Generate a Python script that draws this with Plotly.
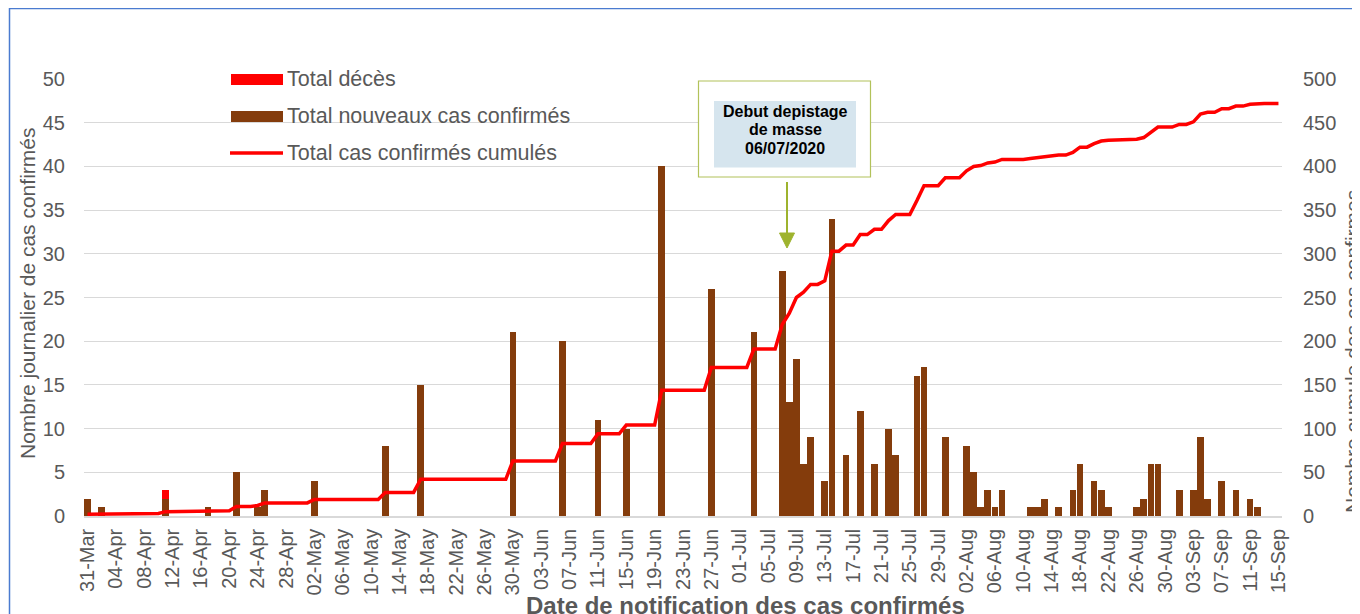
import pandas as pd
import plotly.graph_objects as go

# ---------------- data ----------------
start_date = "2020-03-31"
end_date = "2020-09-15"

case_dates = [
    "2020-03-31", "2020-04-02", "2020-04-11", "2020-04-17", "2020-04-21", "2020-04-24",
    "2020-04-25", "2020-05-02", "2020-05-12", "2020-05-17", "2020-05-30", "2020-06-06",
    "2020-06-11", "2020-06-15", "2020-06-20", "2020-06-27", "2020-07-03", "2020-07-07",
    "2020-07-08", "2020-07-09", "2020-07-10", "2020-07-11", "2020-07-13", "2020-07-14",
    "2020-07-16", "2020-07-18", "2020-07-20", "2020-07-22", "2020-07-23", "2020-07-26",
    "2020-07-27", "2020-07-30", "2020-08-02", "2020-08-03", "2020-08-04", "2020-08-05",
    "2020-08-06", "2020-08-07", "2020-08-11", "2020-08-12", "2020-08-13", "2020-08-15",
    "2020-08-17", "2020-08-18", "2020-08-20", "2020-08-21", "2020-08-22", "2020-08-26",
    "2020-08-27", "2020-08-28", "2020-08-29", "2020-09-01", "2020-09-03", "2020-09-04",
    "2020-09-05", "2020-09-07", "2020-09-09", "2020-09-11", "2020-09-12",
]
case_values = [
    2, 1, 2, 1, 5, 1,
    3, 4, 8, 15, 21, 20,
    11, 10, 40, 26, 21, 28,
    13, 18, 6, 9, 4, 34,
    7, 12, 6, 10, 7, 16,
    17, 9, 8, 5, 1, 3,
    1, 3, 1, 1, 2, 1,
    3, 6, 4, 3, 1, 1,
    2, 6, 6, 3, 3, 9,
    2, 4, 3, 2, 1,
]

death_dates = ["2020-04-11"]
death_values = [1]

cumulative_cases = [
    2,  # 31-Mar
    # April
    2, 3, 3, 3, 3, 3, 3, 3, 3, 3, 5, 5, 5, 5, 5, 5, 6, 6, 6, 6, 11, 11, 11, 12, 15, 15, 15, 15, 15, 15,
    # May
    15, 19, 19, 19, 19, 19, 19, 19, 19, 19, 19, 27, 27, 27, 27, 27,
    42, 42, 42, 42, 42, 42, 42, 42, 42, 42, 42, 42, 42, 63, 63,
    # June
    63, 63, 63, 63, 63, 83, 83, 83, 83, 83, 94, 94, 94, 94, 104, 104, 104, 104, 104,
    144, 144, 144, 144, 144, 144, 144, 170, 170, 170, 170,
    # July
    170, 170, 191, 191, 191, 191, 219, 232, 250, 256, 265, 265, 269, 303, 303, 310, 310,
    322, 322, 328, 328, 338, 345, 345, 345, 361, 378, 378, 378, 387, 387,
    # August
    387, 395, 400, 401, 404, 405, 408, 408, 408, 408, 409, 410, 412, 412, 413, 413,
    416, 422, 422, 426, 429, 430, 430, 430, 430, 431, 433, 439, 445, 445, 445,
    # September
    448, 448, 451, 460, 462, 462, 466, 466, 469, 469, 471, 472, 472, 472, 472,
]

days = pd.date_range(start_date, end_date, freq="D")
assert len(days) == len(cumulative_cases)

legend_labels = ["Total décès", "Total nouveaux cas confirmés", "Total cas confirmés cumulés"]
note_lines = ["Debut depistage", "de masse", "06/07/2020"]
x_title = "Date de notification des cas confirmés"
y_title = "Nombre journalier de cas confirmés"
y2_title = "Nombre cumule des cas confirmes"

# ---------------- styling ----------------
FONT = "Liberation Sans, Arial, sans-serif"
GREY = "#595959"
BROWN = "#843C0C"
RED = "#FF0000"
GRID = "#D9D9D9"
OLIVE = "#9EB32E"

WIDTH, HEIGHT = 1360, 614
OFF = 8  # page offset of the figure inside the browser window
# plot area in window pixels: x 84..1282, y 79..516
L, T = 84 - OFF, 79 - OFF
R, B = WIDTH - (1282 - OFF), HEIGHT - (516 - OFF)
PW, PH = WIDTH - L - R, HEIGHT - T - B


def px(x):
    """window pixel x -> paper fraction"""
    return (x - 84) / PW


def py(y):
    """window pixel y -> paper fraction"""
    return (516 - y) / PH


DAY_MS = 86400000

fig = go.Figure()
fig.add_trace(go.Bar(
    x=case_dates, y=case_values, name=legend_labels[1],
    marker=dict(color=BROWN, line=dict(width=0)), width=DAY_MS * 0.94,
    showlegend=False, yaxis="y",
))
fig.add_trace(go.Bar(
    x=death_dates, y=death_values, name=legend_labels[0],
    marker=dict(color=RED, line=dict(width=0)), width=DAY_MS * 0.94,
    showlegend=False, yaxis="y",
))
fig.add_trace(go.Scatter(
    x=days, y=cumulative_cases, name=legend_labels[2], mode="lines",
    line=dict(color=RED, width=3.5), showlegend=False, yaxis="y2",
))

fig.update_layout(
    width=WIDTH, height=HEIGHT,
    margin=dict(l=L, r=R, t=T, b=B, autoexpand=False),
    paper_bgcolor="white", plot_bgcolor="white",
    barmode="stack", bargap=0.06,
    font=dict(family=FONT, color=GREY, size=20),
    xaxis=dict(
        type="date", range=["2020-03-30 12:00", "2020-09-15 12:00"],
        tick0=start_date, dtick=4 * DAY_MS, tickformat="%d-%b", tickangle=-90,
        tickfont=dict(size=20, color=GREY), showgrid=False,
        showline=True, linecolor=GRID, linewidth=1.5,
        ticks="outside", ticklen=3, tickcolor="rgba(0,0,0,0)",
    ),
    yaxis=dict(
        range=[0, 50], dtick=5, showgrid=True, gridcolor=GRID, gridwidth=1.3,
        zeroline=False, tickfont=dict(size=20, color=GREY),
        ticks="outside", ticklen=14, tickcolor="rgba(0,0,0,0)",
    ),
    yaxis2=dict(
        range=[0, 500], dtick=50, overlaying="y", side="right", showgrid=False,
        zeroline=False, tickfont=dict(size=20, color=GREY),
        ticks="outside", ticklen=16, tickcolor="rgba(0,0,0,0)",
    ),
)

shapes = []
annotations = []

# outer frame (blue border at top & left)
shapes.append(dict(type="rect", xref="paper", yref="paper",
                   x0=px(9.5), x1=px(1400), y0=py(8.5), y1=py(660),
                   line=dict(color="#4A7BD0", width=1.5), fillcolor="rgba(0,0,0,0)", layer="above"))

# manual legend
shapes.append(dict(type="rect", xref="paper", yref="paper",
                   x0=px(231), x1=px(283), y0=py(85), y1=py(74),
                   fillcolor=RED, line=dict(width=0), layer="above"))
shapes.append(dict(type="rect", xref="paper", yref="paper",
                   x0=px(231), x1=px(283), y0=py(122), y1=py(111),
                   fillcolor=BROWN, line=dict(width=0), layer="above"))
shapes.append(dict(type="line", xref="paper", yref="paper",
                   x0=px(230), x1=px(283), y0=py(153), y1=py(153),
                   line=dict(color=RED, width=3.5), layer="above"))
for label, yy in zip(legend_labels, [79, 116, 153]):
    annotations.append(dict(xref="paper", yref="paper", x=px(285), y=py(yy),
                            xanchor="left", yanchor="middle", showarrow=False,
                            text=label, font=dict(family=FONT, size=21.5, color=GREY)))

# note box
shapes.append(dict(type="rect", xref="paper", yref="paper",
                   x0=px(698.5), x1=px(870.5), y0=py(177), y1=py(81),
                   fillcolor="white", line=dict(color="#B2C25A", width=1.2), layer="above"))
shapes.append(dict(type="rect", xref="paper", yref="paper",
                   x0=px(714), x1=px(856), y0=py(167.5), y1=py(101),
                   fillcolor="#D6E5EE", line=dict(width=0), layer="above"))
for line_text, yy in zip(note_lines, [111.5, 130, 148.5]):
    annotations.append(dict(xref="paper", yref="paper", x=px(785), y=py(yy),
                            xanchor="center", yanchor="middle", showarrow=False,
                            text="<b>" + line_text + "</b>",
                            font=dict(family=FONT, size=16, color="black")))
# arrow
shapes.append(dict(type="line", xref="paper", yref="paper",
                   x0=px(787), x1=px(787), y0=py(182), y1=py(235),
                   line=dict(color=OLIVE, width=2), layer="above"))
shapes.append(dict(type="path", xref="paper", yref="paper",
                   path=f"M {px(779.5)} {py(233)} L {px(794.5)} {py(233)} L {px(787)} {py(248)} Z",
                   fillcolor=OLIVE, line=dict(color=OLIVE, width=1), layer="above"))

# axis titles
annotations.append(dict(xref="paper", yref="paper", x=px(27), y=py(294),
                        xanchor="center", yanchor="middle", showarrow=False, textangle=-90,
                        text=y_title, font=dict(family=FONT, size=21, color=GREY)))
annotations.append(dict(xref="paper", yref="paper", x=px(1352), y=py(352),
                        xanchor="center", yanchor="middle", showarrow=False, textangle=-90,
                        text=y2_title, font=dict(family=FONT, size=21, color=GREY)))
annotations.append(dict(xref="paper", yref="paper", x=px(745), y=py(605),
                        xanchor="center", yanchor="middle", showarrow=False,
                        text="<b>" + x_title + "</b>", font=dict(family=FONT, size=24, color=GREY)))

fig.update_layout(shapes=shapes, annotations=annotations)
fig.write_html("out.html")
